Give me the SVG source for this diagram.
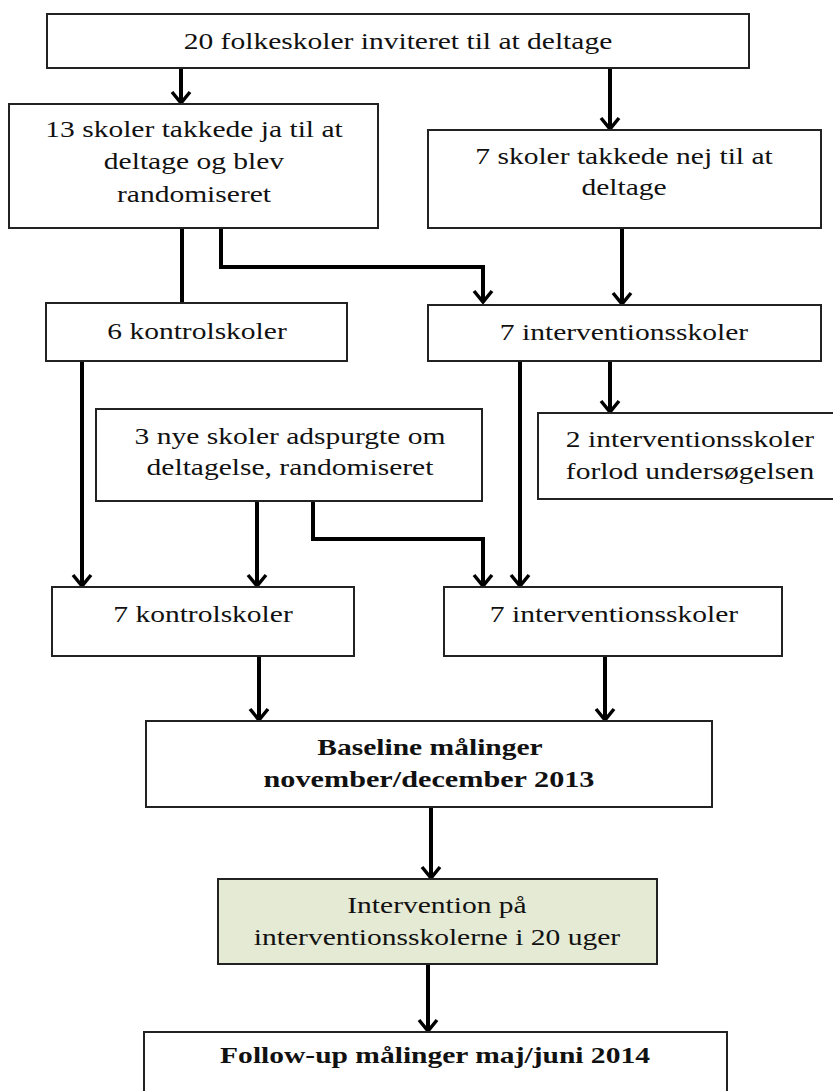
<svg xmlns="http://www.w3.org/2000/svg" width="833" height="1091" viewBox="0 0 833 1091">
  <style>
    .box { fill: #ffffff; stroke: #222222; stroke-width: 2; }
    .green { fill: #e4ead4; }
    .lbl { font-family: "Liberation Serif", "Times New Roman", serif; font-size: 24px; fill: #111111; text-anchor: middle; }
    .bold { font-weight: bold; }
    .edge { fill: none; stroke: #000000; stroke-width: 4; }
  </style>
  <defs>
    <!-- open chevron arrowhead, drawn pointing along +x -->
    <marker id="arrow" viewBox="0 0 16 22" refX="13" refY="11" markerWidth="16" markerHeight="22" markerUnits="userSpaceOnUse" orient="auto">
      <path d="M2,2 L13,11 L2,20" fill="none" stroke="#000" stroke-width="3.5"/>
    </marker>
  </defs>
  <rect width="833" height="1091" fill="#ffffff"/>

  <g id="connectors">
    <path class="edge" d="M181,68 V103" marker-end="url(#arrow)"/>
    <path class="edge" d="M610,68 V129" marker-end="url(#arrow)"/>
    <path class="edge" d="M182,229 V303"/>
    <path class="edge" d="M221,229 V267 H483 V302" marker-end="url(#arrow)"/>
    <path class="edge" d="M622,229 V304" marker-end="url(#arrow)"/>
    <path class="edge" d="M82,361 V586" marker-end="url(#arrow)"/>
    <path class="edge" d="M520,361 V586" marker-end="url(#arrow)"/>
    <path class="edge" d="M610,361 V412" marker-end="url(#arrow)"/>
    <path class="edge" d="M257,501 V586" marker-end="url(#arrow)"/>
    <path class="edge" d="M313,501 V539 H483 V586" marker-end="url(#arrow)"/>
    <path class="edge" d="M259,656 V720" marker-end="url(#arrow)"/>
    <path class="edge" d="M605,656 V720" marker-end="url(#arrow)"/>
    <path class="edge" d="M431,807 V878" marker-end="url(#arrow)"/>
    <path class="edge" d="M428,964 V1031" marker-end="url(#arrow)"/>
  </g>

  <g id="invited">
    <rect class="box" x="47" y="14" width="702" height="54"/>
    <text class="lbl" transform="translate(398,49) scale(1.23,1)">20 folkeskoler inviteret til at deltage</text>
  </g>
  <g id="accepted">
    <rect class="box" x="9" y="104" width="369" height="124"/>
    <text class="lbl" transform="translate(194,137) scale(1.23,1)">13 skoler takkede ja til at</text>
    <text class="lbl" transform="translate(194,169) scale(1.23,1)">deltage og blev</text>
    <text class="lbl" transform="translate(194,202) scale(1.23,1)">randomiseret</text>
  </g>
  <g id="declined">
    <rect class="box" x="428" y="130" width="393" height="98"/>
    <text class="lbl" transform="translate(624,164) scale(1.23,1)">7 skoler takkede nej til at</text>
    <text class="lbl" transform="translate(624,195) scale(1.23,1)">deltage</text>
  </g>
  <g id="control6">
    <rect class="box" x="46" y="303" width="301" height="58"/>
    <text class="lbl" transform="translate(197,339) scale(1.23,1)">6 kontrolskoler</text>
  </g>
  <g id="intervention7a">
    <rect class="box" x="428" y="305" width="393" height="56"/>
    <text class="lbl" transform="translate(624,340) scale(1.23,1)">7 interventionsskoler</text>
  </g>
  <g id="newschools">
    <rect class="box" x="96" y="409" width="386" height="92"/>
    <text class="lbl" transform="translate(290,444) scale(1.23,1)">3 nye skoler adspurgte om</text>
    <text class="lbl" transform="translate(290,475) scale(1.23,1)">deltagelse, randomiseret</text>
  </g>
  <g id="dropout">
    <rect class="box" x="538" y="413" width="300" height="86"/>
    <text class="lbl" transform="translate(690,447) scale(1.23,1)">2 interventionsskoler</text>
    <text class="lbl" transform="translate(690,479) scale(1.23,1)">forlod undersøgelsen</text>
  </g>
  <g id="control7">
    <rect class="box" x="52" y="587" width="302" height="69"/>
    <text class="lbl" transform="translate(203,622) scale(1.23,1)">7 kontrolskoler</text>
  </g>
  <g id="intervention7b">
    <rect class="box" x="444" y="587" width="338" height="69"/>
    <text class="lbl" transform="translate(614,622) scale(1.23,1)">7 interventionsskoler</text>
  </g>
  <g id="baseline">
    <rect class="box" x="146" y="721" width="566" height="86"/>
    <text class="lbl bold" transform="translate(430,755) scale(1.23,1)">Baseline målinger</text>
    <text class="lbl bold" transform="translate(429,787) scale(1.26,1)">november/december 2013</text>
  </g>
  <g id="intervention">
    <rect class="box green" x="218" y="879" width="439" height="85"/>
    <text class="lbl" transform="translate(437,913) scale(1.23,1)">Intervention på</text>
    <text class="lbl" transform="translate(437,945) scale(1.23,1)">interventionsskolerne i 20 uger</text>
  </g>
  <g id="followup">
    <rect class="box" x="144" y="1032" width="583" height="80"/>
    <text class="lbl bold" transform="translate(435,1063) scale(1.23,1)">Follow-up målinger maj/juni 2014</text>
  </g>
</svg>
